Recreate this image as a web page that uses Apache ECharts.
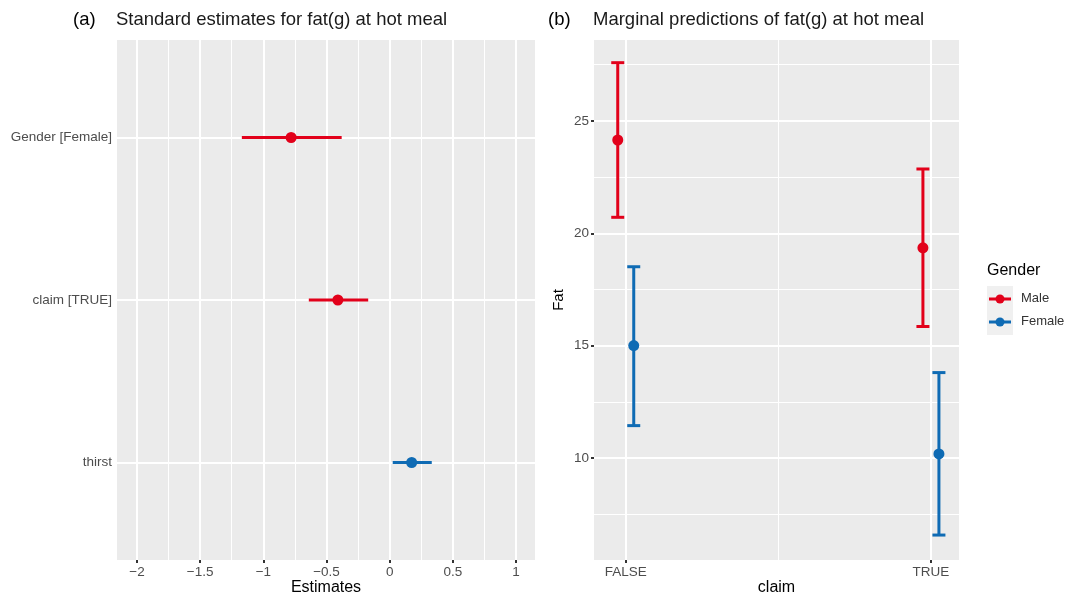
<!DOCTYPE html>
<html>
<head>
<meta charset="utf-8">
<script src="https://cdn.jsdelivr.net/npm/echarts@6/dist/echarts.min.js"></script>
<style>html,body{margin:0;padding:0;background:#fff;}#c{width:1067px;height:592px;}</style>
</head>
<body>
<div id="c"></div>
<script>
// ---- Data ----
const terms = ['thirst', 'claim [TRUE]', 'Gender [Female]'];
const termEst = [0.174, -0.41, -0.78];
const termLow = [0.024, -0.64, -1.17];
const termHigh = [0.333, -0.17, -0.38];
const estTicks = [-2, -1.5, -1, -0.5, 0, 0.5, 1];

const claims = ['FALSE', 'TRUE'];
const maleFit = [24.15, 19.35];
const maleLow = [20.71, 15.85];
const maleHigh = [27.59, 22.86];
const femaleFit = [15.0, 10.18];
const femaleLow = [11.44, 6.57];
const femaleHigh = [18.51, 13.8];
const fatTicks = [10, 15, 20, 25];

// ---- Styles ----
const RED = '#E2001A';
const BLUE = '#0F6BB4';
const FONT = 'Liberation Sans, Arial, sans-serif';
const LABEL = '#4D4D4D';

const chart = echarts.init(document.getElementById('c'), null, {renderer: 'canvas'});

function gridLines(vMajor, vMinor, hMajor, hMinor) {
  const d = [];
  vMinor.forEach(v => d.push({xAxis: v, lineStyle: {width: 1}}));
  hMinor.forEach(v => d.push({yAxis: v, lineStyle: {width: 1}}));
  vMajor.forEach(v => d.push({xAxis: v, lineStyle: {width: 2}}));
  hMajor.forEach(v => d.push({yAxis: v, lineStyle: {width: 2}}));
  return d;
}

const minorLeft = [];
for (let i = 0; i < estTicks.length - 1; i++) minorLeft.push((estTicks[i] + estTicks[i + 1]) / 2);
const minorFat = [7.5];
for (let i = 0; i < fatTicks.length; i++) minorFat.push(fatTicks[i] + 2.5);

function markSeries(xi, yi, data) {
  return {
    type: 'scatter', xAxisIndex: xi, yAxisIndex: yi, data: [], z: 1, silent: true,
    markLine: {
      silent: true, symbol: ['none', 'none'], animation: false,
      label: {show: false}, emphasis: {disabled: true},
      lineStyle: {color: '#FFFFFF', type: 'solid'},
      data: data
    }
  };
}

function dodgeSeries(name, color, offset, fit, low, high) {
  return {
    name: name, type: 'custom', xAxisIndex: 1, yAxisIndex: 1, z: 5,
    data: claims.map((c, i) => [i + 1, fit[i], low[i], high[i]]),
    renderItem: function (params, api) {
      const x = api.value(0);
      const p = api.coord([x, api.value(1)]);
      const t = api.coord([x, api.value(3)]);
      const b = api.coord([x, api.value(2)]);
      const cx = p[0] + offset;
      const st = {stroke: color, lineWidth: 3};
      return {type: 'group', children: [
        {type: 'line', shape: {x1: cx, y1: t[1], x2: cx, y2: b[1]}, style: st},
        {type: 'line', shape: {x1: cx - 6.5, y1: t[1], x2: cx + 6.5, y2: t[1]}, style: st},
        {type: 'line', shape: {x1: cx - 6.5, y1: b[1], x2: cx + 6.5, y2: b[1]}, style: st},
        {type: 'circle', shape: {cx: cx, cy: p[1], r: 5.5}, style: {fill: color}}
      ]};
    }
  };
}

const tickStyle = {show: true, length: 3, lineStyle: {color: '#333333', width: 2}};

const option = {
  animation: false,
  textStyle: {fontFamily: FONT},
  grid: [
    {left: 117, top: 40, width: 418, height: 520, show: true, backgroundColor: '#EBEBEB', borderWidth: 0,
      containLabel: false, outerBoundsMode: 'none'},
    {left: 594, top: 40, width: 365, height: 520, show: true, backgroundColor: '#EBEBEB', borderWidth: 0,
      containLabel: false, outerBoundsMode: 'none'}
  ],
  xAxis: [
    {
      type: 'value', gridIndex: 0, min: -2.158, max: 1.15,
      name: 'Estimates', nameLocation: 'middle', nameGap: 20, nameMoveOverlap: false,
      nameTextStyle: {fontSize: 16, color: '#000', fontFamily: FONT, verticalAlign: 'top'},
      axisLine: {show: false},
      axisTick: Object.assign({customValues: estTicks}, tickStyle),
      axisLabel: {customValues: estTicks, color: LABEL, fontSize: 13.5, margin: 5, fontFamily: FONT,
        formatter: v => String(v).replace('-', '\u2212')},
      splitLine: {show: false}
    },
    {
      type: 'value', gridIndex: 1, min: 0.896, max: 2.092,
      name: 'claim', nameLocation: 'middle', nameGap: 20, nameMoveOverlap: false,
      nameTextStyle: {fontSize: 16, color: '#000', fontFamily: FONT, verticalAlign: 'top'},
      axisLine: {show: false},
      axisTick: Object.assign({customValues: [1, 2]}, tickStyle),
      axisLabel: {customValues: [1, 2], color: LABEL, fontSize: 13.5, margin: 5, fontFamily: FONT,
        formatter: v => claims[Math.round(v) - 1] || ''},
      splitLine: {show: false}
    }
  ],
  yAxis: [
    {
      type: 'value', gridIndex: 0, min: 0.4, max: 3.6,
      axisLine: {show: false},
      axisTick: Object.assign({customValues: [1, 2, 3]}, tickStyle),
      axisLabel: {customValues: [1, 2, 3], color: LABEL, fontSize: 13.5, margin: 5, fontFamily: FONT,
        formatter: v => terms[Math.round(v) - 1] || ''},
      splitLine: {show: false}
    },
    {
      type: 'value', gridIndex: 1, min: 5.46, max: 28.6,
      name: 'Fat', nameLocation: 'middle', nameGap: 28,
      nameTextStyle: {fontSize: 15, color: '#000', fontFamily: FONT},
      axisLine: {show: false},
      axisTick: Object.assign({customValues: fatTicks}, tickStyle),
      axisLabel: {customValues: fatTicks, color: LABEL, fontSize: 13.5, margin: 5, fontFamily: FONT},
      splitLine: {show: false}
    }
  ],
  series: [
    markSeries(0, 0, gridLines(estTicks, minorLeft, [1, 2, 3], [])),
    markSeries(1, 1, gridLines([1, 2], [1.5], fatTicks, minorFat)),
    {
      type: 'custom', xAxisIndex: 0, yAxisIndex: 0, z: 5,
      data: terms.map((t, i) => [i + 1, termEst[i], termLow[i], termHigh[i]]),
      renderItem: function (params, api) {
        const y = api.value(0);
        const lo = api.coord([api.value(2), y]);
        const hi = api.coord([api.value(3), y]);
        const pt = api.coord([api.value(1), y]);
        const color = api.value(1) >= 0 ? BLUE : RED;
        return {type: 'group', children: [
          {type: 'line', shape: {x1: lo[0], y1: lo[1], x2: hi[0], y2: hi[1]}, style: {stroke: color, lineWidth: 3}},
          {type: 'circle', shape: {cx: pt[0], cy: pt[1], r: 5.5}, style: {fill: color}}
        ]};
      }
    },
    dodgeSeries('Male', RED, -8, maleFit, maleLow, maleHigh),
    dodgeSeries('Female', BLUE, 8, femaleFit, femaleLow, femaleHigh)
  ],
  graphic: [
    {type: 'text', left: 73, top: 10, style: {text: '(a)', fontSize: 18.5, fill: '#000', fontFamily: FONT}},
    {type: 'text', left: 116, top: 10, style: {text: 'Standard estimates for fat(g) at hot meal', fontSize: 18.5, fill: '#1a1a1a', fontFamily: FONT}},
    {type: 'text', left: 548, top: 10, style: {text: '(b)', fontSize: 18.5, fill: '#000', fontFamily: FONT}},
    {type: 'text', left: 593, top: 10, style: {text: 'Marginal predictions of fat(g) at hot meal', fontSize: 18.5, fill: '#1a1a1a', fontFamily: FONT}},
    {type: 'text', left: 987, top: 263, style: {text: 'Gender', fontSize: 16, fill: '#000', fontFamily: FONT}},
    {type: 'rect', shape: {x: 987, y: 286, width: 26, height: 49}, style: {fill: '#F0F0F0'}},
    {type: 'line', shape: {x1: 989, y1: 299, x2: 1011, y2: 299}, style: {stroke: RED, lineWidth: 3}},
    {type: 'circle', shape: {cx: 1000, cy: 299, r: 4.5}, style: {fill: RED}},
    {type: 'line', shape: {x1: 989, y1: 322, x2: 1011, y2: 322}, style: {stroke: BLUE, lineWidth: 3}},
    {type: 'circle', shape: {cx: 1000, cy: 322, r: 4.5}, style: {fill: BLUE}},
    {type: 'text', left: 1021, top: 292, style: {text: 'Male', fontSize: 13, fill: '#333', fontFamily: FONT}},
    {type: 'text', left: 1021, top: 315, style: {text: 'Female', fontSize: 13, fill: '#333', fontFamily: FONT}}
  ]
};
chart.setOption(option);
</script>
</body>
</html>
